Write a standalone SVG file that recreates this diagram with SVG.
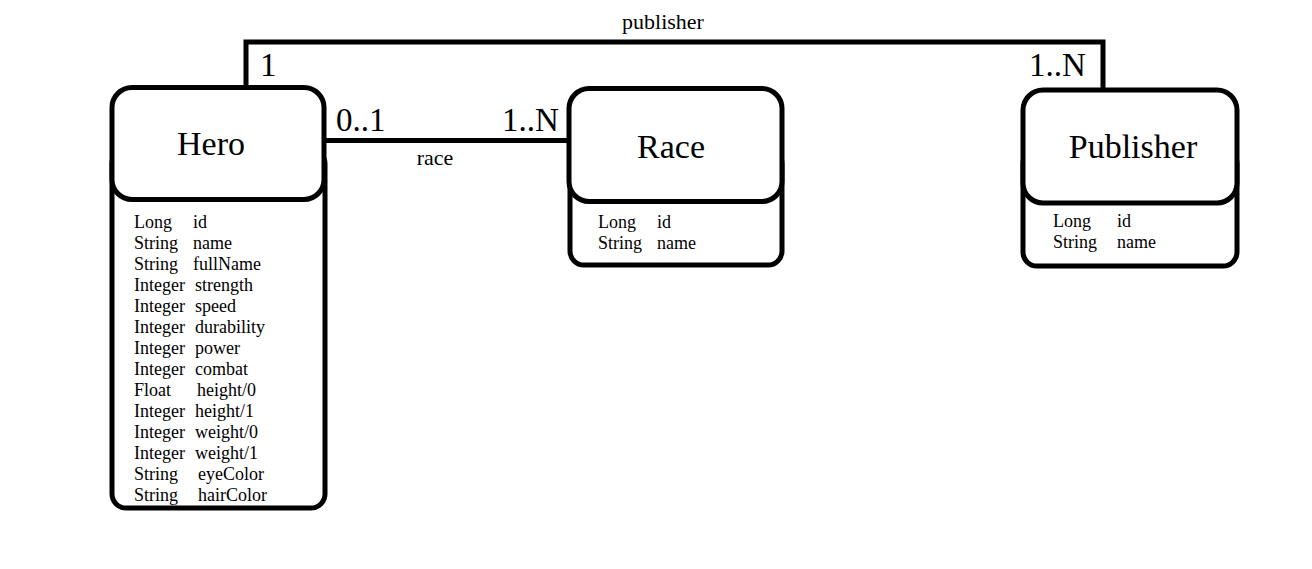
<svg xmlns="http://www.w3.org/2000/svg" width="1312" height="569" viewBox="0 0 1312 569">
<style>
.box{fill:#fff;stroke:#000;stroke-width:5}
.ln{fill:none;stroke:#000;stroke-width:5}
text{font-family:"Liberation Serif","Times New Roman",serif;fill:#000}
.title{font-size:34px;text-anchor:middle}
.attr{font-size:18px}
.mult{font-size:33px}
.lbl{font-size:22px;text-anchor:middle}
</style>
<rect width="1312" height="569" fill="#fff"/>
<g id="connectors">
<polyline class="ln" points="246,88 246,42 1103,42 1103,90"/>
<line class="ln" x1="325" y1="140.5" x2="569" y2="140.5"/>
<text class="lbl" x="663" y="29">publisher</text>
<text class="mult" x="260" y="76">1</text>
<text class="mult" x="1029" y="76">1..N</text>
<text class="lbl" x="435" y="165">race</text>
<text class="mult" x="336" y="131">0..1</text>
<text class="mult" x="502" y="131">1..N</text>
</g>
<g id="hero">
<rect class="box" x="112" y="150" width="213" height="358" rx="14"/>
<rect class="box" x="112" y="87.5" width="212" height="112" rx="20"/>
<text class="title" x="211" y="155">Hero</text>
<g class="attr">
<text x="134" y="228">Long</text><text x="193" y="228">id</text>
<text x="134" y="249">String</text><text x="193" y="249">name</text>
<text x="134" y="270">String</text><text x="193" y="270">fullName</text>
<text x="134" y="291">Integer</text><text x="195" y="291">strength</text>
<text x="134" y="312">Integer</text><text x="195" y="312">speed</text>
<text x="134" y="333">Integer</text><text x="195" y="333">durability</text>
<text x="134" y="354">Integer</text><text x="195" y="354">power</text>
<text x="134" y="375">Integer</text><text x="195" y="375">combat</text>
<text x="134" y="396">Float</text><text x="197" y="396">height/0</text>
<text x="134" y="417">Integer</text><text x="195" y="417">height/1</text>
<text x="134" y="438">Integer</text><text x="195" y="438">weight/0</text>
<text x="134" y="459">Integer</text><text x="195" y="459">weight/1</text>
<text x="134" y="480">String</text><text x="198" y="480">eyeColor</text>
<text x="134" y="501">String</text><text x="198" y="501">hairColor</text>
</g>
</g>
<g id="race">
<rect class="box" x="570" y="150" width="212" height="115" rx="14"/>
<rect class="box" x="569" y="88.5" width="213" height="113" rx="20"/>
<text class="title" x="671" y="158">Race</text>
<g class="attr">
<text x="598" y="228">Long</text><text x="657" y="228">id</text>
<text x="598" y="249">String</text><text x="657" y="249">name</text>
</g>
</g>
<g id="publisher">
<rect class="box" x="1023" y="150" width="214" height="116" rx="14"/>
<rect class="box" x="1023" y="90" width="214" height="113" rx="20"/>
<text class="title" x="1133" y="158">Publisher</text>
<g class="attr">
<text x="1053" y="227">Long</text><text x="1117" y="227">id</text>
<text x="1053" y="248">String</text><text x="1117" y="248">name</text>
</g>
</g>
</svg>
